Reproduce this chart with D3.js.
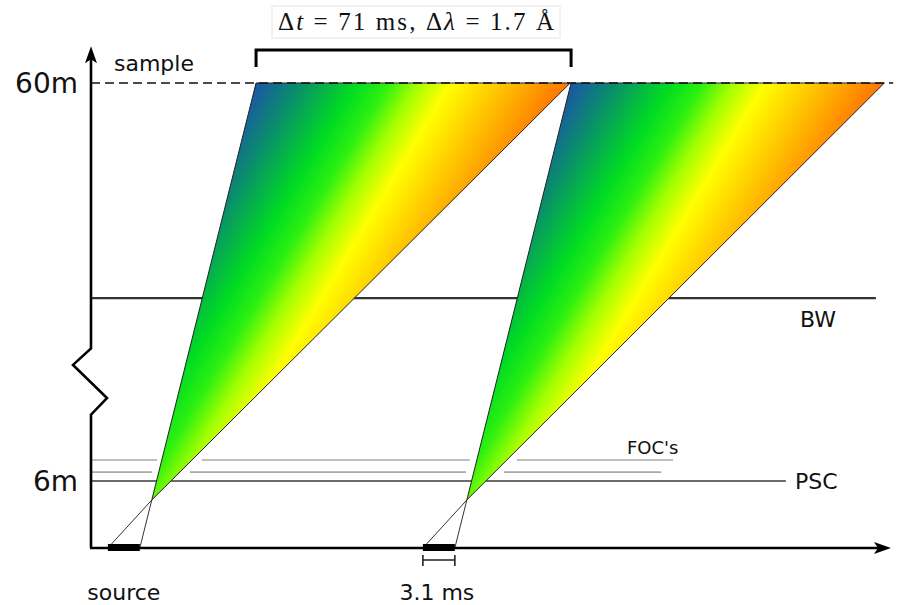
<!DOCTYPE html>
<html>
<head>
<meta charset="utf-8">
<script src="https://cdn.jsdelivr.net/npm/d3@7"></script>
<style>
  html, body { margin: 0; padding: 0; background: #fff; }
  svg { display: block; }
  .lbl { font-family: "DejaVu Sans", Verdana, sans-serif; fill: #111; }
</style>
</head>
<body>
<svg id="chart" width="904" height="605"></svg>
<script>
// Time–distance diagram of two source pulses travelling to the sample.
// Time in ms, distance in m (axis broken between the FOC's and BW).

const frames = ["frame 1", "frame 2"];
const pulseStart = [3.8, 74.8];        // ms, source pulse opening
const pulseEnd = [11.0, 82.0];         // ms, source pulse closing
const crossTime = [13.7, 84.7];        // ms, where fastest and slowest paths cross
const crossDist = 4.3;                 // m
const arrivalFirst = [37.2, 108.2];    // ms, first neutrons at sample
const arrivalLast = [108.0, 178.8];    // ms, last neutrons at sample

const sampleDist = 60;
const sampleLineEnd = 180.8;
const pscDist = 6;
const pscEnd = 156.6;
const bwDist = 30.8;
const bwEnd = 176.9;
const focDist = [7.2, 8.85];
const focEnd = [128.5, 131.2];
const focOpenings = [
  [[13.7, 22.3], [84.5, 93.1]],
  [[14.9, 25.0], [85.4, 96.0]]
];

const distTicks = [6, 60];
const distTickLabels = ["6m", "60m"];
const breakRange = [15.0, 24.0];       // m, extent of the axis break
const tMax = 180.3;
const dMax = 65;

const periodLabel = ["Δ", "t", " = 71 ms,  Δ", "λ", " = 1.7 Å"];
const pulseLabel = "3.1 ms";

// wavelength colour ramp across each frame (short → long)
const rampOffsets = [0, 0.14, 0.32, 0.42, 0.52, 0.62, 0.8, 1];
const rampColors = ["#1b55a6", "#0a8d6c", "#00dc22", "#2cf010", "#a6ff00", "#ffff00", "#ffbe00", "#ff7400"];

const svg = d3.select("#chart");
const x = d3.scaleLinear().domain([0, tMax]).range([91, 891]);
const y = d3.scaleLinear().domain([0, 6, 60]).range([548, 481, 83]);

const defs = svg.append("defs");
const gradDir = [0.857, 0.514];

// ---- frames (coloured fans) ----
frames.forEach((f, i) => {
  const x0 = x(arrivalFirst[i]), x1 = x(arrivalLast[i]), yt = y(sampleDist);
  const L = (x1 - x0) * gradDir[0];
  const g = defs.append("linearGradient")
    .attr("id", "ramp" + i)
    .attr("gradientUnits", "userSpaceOnUse")
    .attr("x1", x0).attr("y1", yt)
    .attr("x2", x0 + L * gradDir[0]).attr("y2", yt + L * gradDir[1]);
  rampOffsets.forEach((o, k) => g.append("stop").attr("offset", o).attr("stop-color", rampColors[k]));
});

// ---- chopper lines ----
const line = d3.line().x(d => x(d[0])).y(d => y(d[1]));

// FOC's (with openings)
focDist.forEach((d, i) => {
  const ops = focOpenings[i];
  const segs = [[0, ops[0][0]], [ops[0][1], ops[1][0]], [ops[1][1], focEnd[i]]];
  segs.forEach(s => {
    svg.append("path").attr("d", line([[s[0], d], [s[1], d]]))
      .attr("stroke", "#a8a8a8").attr("stroke-width", 1.6).attr("fill", "none");
  });
});

// PSC
svg.append("path").attr("d", line([[0, pscDist], [pscEnd, pscDist]]))
  .attr("stroke", "#3a3a3a").attr("stroke-width", 1.6).attr("fill", "none");

// BW
svg.append("path").attr("d", line([[0, bwDist], [bwEnd, bwDist]]))
  .attr("stroke", "#333").attr("stroke-width", 2.2).attr("fill", "none");

// ---- paths from the source pulse to the crossing point ----
frames.forEach((f, i) => {
  [pulseStart[i], pulseEnd[i]].forEach(t => {
    svg.append("path").attr("d", line([[t, 0], [crossTime[i], crossDist]]))
      .attr("stroke", "#333").attr("stroke-width", 1).attr("fill", "none");
  });
});

// ---- fans ----
frames.forEach((f, i) => {
  const pts = [[crossTime[i], crossDist], [arrivalFirst[i], sampleDist], [arrivalLast[i], sampleDist]];
  svg.append("path").attr("d", line(pts) + "Z")
    .attr("fill", "url(#ramp" + i + ")")
    .attr("stroke", "#222").attr("stroke-width", 1).attr("stroke-linejoin", "round");
});

// ---- sample line ----
svg.append("path").attr("d", line([[0, sampleDist], [sampleLineEnd, sampleDist]]))
  .attr("stroke", "#111").attr("stroke-width", 1.6).attr("stroke-dasharray", "9,5").attr("fill", "none");

// ---- axes ----
const yTop = y(dMax), yB1 = y(breakRange[1]), yB0 = y(breakRange[0]);
const ax = x(0);
svg.append("path")
  .attr("d", `M${ax},${y(0)}V${yB0}L${ax + 16},${yB0 - (yB0 - yB1) * 0.25}L${ax - 18},${yB1 + (yB0 - yB1) * 0.25}L${ax},${yB1}V${yTop + 10}`)
  .attr("stroke", "#000").attr("stroke-width", 2.6).attr("fill", "none").attr("stroke-linejoin", "miter");
svg.append("path")
  .attr("d", `M${ax},${yTop}L${ax - 6},${yTop + 17}L${ax},${yTop + 13}L${ax + 6},${yTop + 17}Z`)
  .attr("fill", "#000");

const xr = x(tMax), y0 = y(0);
svg.append("path").attr("d", `M${ax - 1},${y0}H${xr - 10}`)
  .attr("stroke", "#000").attr("stroke-width", 2.6);
svg.append("path")
  .attr("d", `M${xr},${y0}L${xr - 17},${y0 - 6}L${xr - 13},${y0}L${xr - 17},${y0 + 6}Z`)
  .attr("fill", "#000");

// distance tick labels
distTicks.forEach((d, i) => {
  svg.append("text").attr("class", "lbl")
    .attr("x", 78).attr("y", y(d) + 10)
    .attr("text-anchor", "end").attr("font-size", 28)
    .text(distTickLabels[i]);
});

// ---- source pulses ----
frames.forEach((f, i) => {
  svg.append("rect")
    .attr("x", x(pulseStart[i])).attr("y", y(0) - 4)
    .attr("width", x(pulseEnd[i]) - x(pulseStart[i])).attr("height", 7)
    .attr("fill", "#000");
});

// pulse width marker under the second frame
{
  const a = x(pulseStart[1]), b = x(pulseEnd[1]), yy = y(0) + 12;
  svg.append("path").attr("d", `M${a},${yy}H${b}M${a},${yy - 5}V${yy + 6}M${b},${yy - 5}V${yy + 6}`)
    .attr("stroke", "#222").attr("stroke-width", 1.6).attr("fill", "none");
  svg.append("text").attr("class", "lbl").attr("x", (a + b) / 2 - 2).attr("y", 600)
    .attr("text-anchor", "middle").attr("font-size", 22).text(pulseLabel);
}

svg.append("text").attr("class", "lbl")
  .attr("x", (x(pulseStart[0]) + x(pulseEnd[0])) / 2).attr("y", 600)
  .attr("text-anchor", "middle").attr("font-size", 22).text("source");

// ---- labels ----
svg.append("text").attr("class", "lbl").attr("x", 114).attr("y", 71).attr("font-size", 22).text("sample");
svg.append("text").attr("class", "lbl").attr("x", 800).attr("y", y(bwDist) + 29).attr("font-size", 22).text("BW");
svg.append("text").attr("class", "lbl").attr("x", 795).attr("y", y(pscDist) + 8).attr("font-size", 22).text("PSC");
svg.append("text").attr("class", "lbl").attr("x", 627).attr("y", 454).attr("font-size", 18).text("FOC's");

// ---- frame period bracket ----
{
  const a = x(arrivalFirst[0]), b = x(arrivalFirst[1]);
  svg.append("path").attr("d", `M${a},67V50H${b}V67`)
    .attr("stroke", "#000").attr("stroke-width", 3).attr("fill", "none");

  svg.append("rect").attr("x", 272).attr("y", 6).attr("width", 288).attr("height", 32)
    .attr("fill", "#fff").attr("stroke", "#e4e4e4").attr("stroke-width", 1);
  const t = svg.append("text").attr("x", 278).attr("y", 30)
    .attr("font-family", "'Liberation Serif', 'Times New Roman', serif")
    .attr("font-size", 25).attr("fill", "#111")
    .attr("textLength", 276).attr("lengthAdjust", "spacing");
  periodLabel.forEach((s, k) => {
    t.append("tspan").attr("font-style", (k === 1 || k === 3) ? "italic" : "normal").text(s);
  });
}
</script>
</body>
</html>
